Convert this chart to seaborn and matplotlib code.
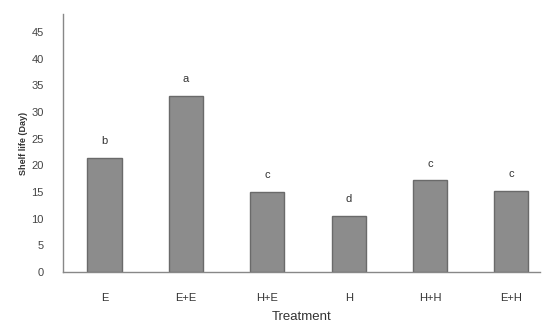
import pandas as pd
import matplotlib.pyplot as plt
import seaborn as sns

tratamentos = ["E", "E+E", "H+E", "H", "H+H", "E+H"]
vida_util = [21.4, 33.0, 15.1, 10.5, 17.2, 15.2]
letras = ["b", "a", "c", "d", "c", "c"]

dados = pd.DataFrame({"Treatment": tratamentos, "Shelf life (Day)": vida_util})

sns.set_style("white")
plt.rcParams["font.family"] = ["Liberation Sans", "DejaVu Sans"]

fig = plt.figure(figsize=(5.45, 3.24), dpi=100)
ax = fig.add_axes([0.1156, 0.1605, 0.875, 0.796])

sns.barplot(data=dados, x="Treatment", y="Shelf life (Day)", color="#8c8c8c",
            width=0.42, edgecolor="#6a6a6a", linewidth=1.0, saturation=1, ax=ax)

# letras de significancia acima das barras
for i, (v, l) in enumerate(zip(vida_util, letras)):
    ax.text(i, v + 2.2, l, ha="center", va="bottom", fontsize=8, color="#333333")

ax.set_ylim(0, 48.4)
ax.set_xlim(-0.51, 5.35)
ax.set_yticks(range(0, 50, 5))
ax.tick_params(axis="y", direction="in", length=3, color="#888888",
               labelsize=8, labelcolor="#444444", pad=14)
ax.tick_params(axis="x", length=0, labelsize=8, labelcolor="#333333", pad=15)

ax.set_ylabel("Shelf life (Day)", fontsize=6.5, fontweight="bold", color="#333333", labelpad=2)
ax.set_xlabel("Treatment", fontsize=9.5, color="#333333", labelpad=6)

sns.despine(ax=ax)
for s in ["left", "bottom"]:
    ax.spines[s].set_color("#888888")
    ax.spines[s].set_linewidth(1.0)

fig.savefig("out.png", dpi=100)
plt.close()
